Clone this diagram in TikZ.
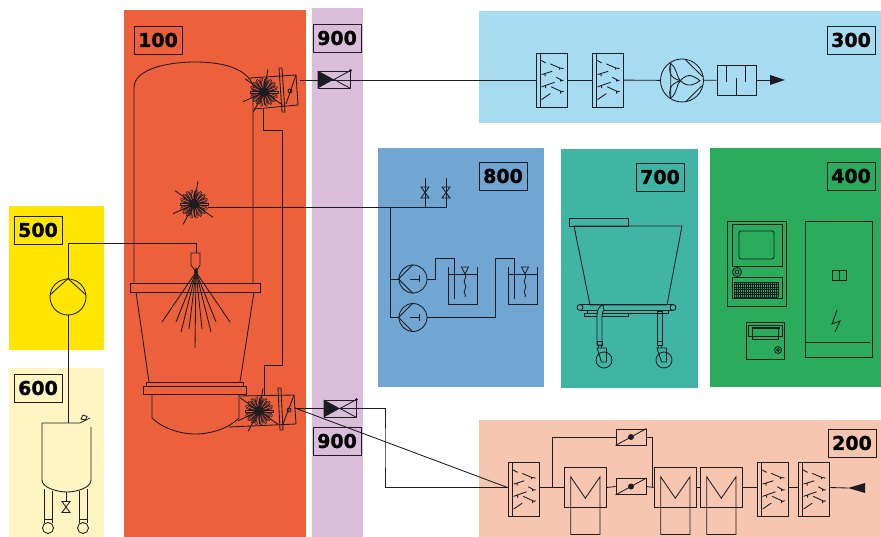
\documentclass[tikz,border=0pt]{standalone}
\usepackage{fontspec}
\setmainfont[BoldFeatures={FakeBold=1.2}]{DejaVu Sans}
\usetikzlibrary{positioning,calc}
\definecolor{ink}{HTML}{1C1C22}
\definecolor{col100}{HTML}{EC603C}
\definecolor{col200}{HTML}{F7C6B0}
\definecolor{col300}{HTML}{A6DBF2}
\definecolor{col400}{HTML}{2BAB5C}
\definecolor{col500}{HTML}{FFE600}
\definecolor{col600}{HTML}{FFF5C3}
\definecolor{col700}{HTML}{40B5A6}
\definecolor{col800}{HTML}{70A6D1}
\definecolor{col900}{HTML}{D9BDD9}

\begin{document}
\begin{tikzpicture}[x=1pt, y=-1pt, line width=0.85pt, color=ink,
    tag/.style={draw, rectangle, minimum width=48pt, minimum height=28pt, inner sep=0pt, text=black, font=\fontsize{19}{19}\selectfont\bfseries},
    filterbox/.style={draw, rectangle, minimum width=31pt, minimum height=54pt, inner sep=0pt},
    hxbox/.style={draw, rectangle, minimum width=42pt, minimum height=40pt, inner sep=0pt},
    flapbox/.style={draw, rectangle, minimum width=30pt, minimum height=16pt, inner sep=0pt},
    valvebox/.style={draw, rectangle, minimum width=32pt, minimum height=17pt, inner sep=0pt},
    pumpbox/.style={draw, circle, minimum size=28pt, inner sep=0pt},
    hub/.style={circle, fill=ink, minimum size=10pt, inner sep=0pt},
    filterfill/.pic={
        \draw (5,0) -- (5,54);
        \draw (5.3,7.7) -- (10,10.3);
        \draw (14.7,11.3) -- (24,15.3) -- (28,16) (24,15.3) -- (24,17);
        \draw (6,22) -- (16.7,18.7) (9.5,20.5) -- (9.5,23.5);
        \draw (20.7,24.7) -- (26.7,28) -- (28,27.5) (25,27) -- (25,29);
        \draw (6,34.3) -- (19,29.7) (10,33) -- (10,35.5);
        \draw (15.7,34.3) -- (26.7,39.3) -- (28,38.5) (25,38.5) -- (25,41);
        \draw (6,47) -- (14.7,41);
    },
    coilfill/.pic={
        \draw (-14.3,47) -- (-14.3,-10.7) -- (0.3,10.7) -- (15,-10.7) -- (15,47) -- cycle;
    },
    burst/.pic={
        \foreach \a in {0,20,...,340} {\draw[rotate=\a, line width=0.5pt] (3,-0.8) rectangle (14,0.8);}
        \foreach \a in {10,30,...,350} {\draw[rotate=\a] (0,0) -- (13,0);}
        \foreach \a in {80,145,205,242,-35} {\draw[rotate=\a] (0,0) -- (23,0);}
    },
    bowtie/.pic={
        \draw (-4,-5.5) -- (4,-5.5) -- (-4,5.5) -- (4,5.5) -- cycle;
    },
    levelmark/.pic={
        \draw (0,0) -- (0,37) -- (29,37) -- (29,0) (0,7) -- (29,7);
        \draw (13.5,0) -- (20.5,0) -- (17,7) -- cycle;
        \draw (17,7) .. controls (20,11) and (14,13) .. (17,17) .. controls (20,21) and (14,24) .. (17,27) .. controls (18,28) and (17,29) .. (17,30);
    },
    caster/.pic={
        \draw (-2.5,-4) rectangle (2.5,0);
        \draw (-1.5,0) -- (-1.5,3) (1.5,0) -- (1.5,3);
        \draw (-2.5,3) -- (7,3) -- (7,17) -- (2,17) -- cycle;
        \draw (4.5,15) circle (8);
    }]
    \useasboundingbox (0,0) rectangle (881,537);

    \fill[col500] (9,206) rectangle (104,350);
    \fill[col600] (9,368) rectangle (104,537);
    \fill[col100] (124,10) rectangle (306,537);
    \fill[col900] (312,8) rectangle (363,537);
    \fill[col300] (479,11) rectangle (881,123);
    \fill[col800] (378,148) rectangle (544,387);
    \fill[col700] (561,149) rectangle (698,388);
    \fill[col400] (710,148) rectangle (881,387);
    \fill[col200] (479,420) rectangle (881,537);

    \node (tag100) [tag] at (158,40) {100};
    \node (tag900a) [tag] at (337,38) {900};
    \node (tag900b) [tag] at (337,441) {900};
    \node (tag300) [tag] at (851,40) {300};
    \node (tag800) [tag] at (503,176) {800};
    \node (tag700) [tag] at (660,177) {700};
    \node (tag400) [tag] at (851,176) {400};
    \node (tag200) [tag] at (852,443) {200};
    \node (tag500) [tag] at (38,230) {500};
    \node (tag600) [tag] at (38,388) {600};

    % column
    \draw (134,283) -- (134,88) .. controls (134,68) and (170,62) .. (195,62) .. controls (222,62) and (246,68) .. (253,85) -- (253,283);
    \draw (130,283) rectangle (260,292);
    \draw (136,292) -- (149,382) (254,292) -- (240,382);
    \draw (146,382) rectangle (243,386);
    \draw (143,386) rectangle (246,394);
    \draw (152,394) -- (152,418) .. controls (162,428) and (180,434) .. (195,434) .. controls (212,434) and (229,428) .. (239,418) -- (239,394);

    % upper housing
    \draw (250,78) -- (296,75) -- (298,105) -- (254,109);
    \draw (279,68) -- (282,68) -- (285,112) -- (282,112) -- cycle;
    \draw (296,75) -- (286,104);
    \draw (290,91) circle (2);
    \pic at (264,92) {burst};
    \node (burstA) [hub] at (264,92) {};

    % lower housing
    \draw (239,396) -- (294,395) -- (296,424) -- (229,427);
    \draw (278,388) -- (281,388) -- (283,430) -- (280,430) -- cycle;
    \draw (294,395) -- (283,424);
    \draw (289,410) circle (2);
    \pic at (259,411) {burst};
    \node (burstC) [hub] at (259,411) {};

    % middle ring and spray
    \pic at (194,204) {burst};
    \node (burstB) [hub] at (194,204) {};
    \draw (191,253) -- (200,253) -- (200,265) -- (196,272) -- (191,265) -- cycle;
    \fill (196,267) -- (198,272) -- (196,276) -- (194,272) -- cycle;
    \foreach \ex/\ey in {162/322,176/322,181/332,189/329,195/348,202/329,211/332,216/322,230/322} {
        \draw (196,272) -- (\ex,\ey);
    }
    \coordinate (ductA) at (263,108);
    \coordinate (ductB) at (282,130);
    \coordinate (ductC) at (264,365);
    \coordinate (ductD) at (264,395);
    \draw (ductA) |- (ductB) |- (ductC) -- (ductD);

    % dampers in 900
    \node (valveA) [valvebox] at (334,79.5) {};
    \node (valveB) [valvebox] at (340,408.5) {};
    \foreach \v in {valveA,valveB} {
        \fill (\v.north west) -- (\v.south west) -- (\v.center) -- cycle;
        \draw (\v.south east) -- (\v.center) -- (\v.north east);
        \fill (\v.north east) circle (1.6);
    }

    % exhaust line
    \foreach \name/\x/\y in {fltA/551.5/80,fltB/607.5/80,fltC/523.5/489.5,fltD/772.5/489.5,fltE/813.5/489.5} {
        \node (\name) [filterbox] at (\x,\y) {};
        \pic at (\name.north west) {filterfill};
    }
    \node (fanA) [draw, circle, minimum size=43pt, inner sep=0pt] at (682,80.5) {};
    \draw (685.7,60) -- (702.7,76.7) (685.7,101.7) -- (702.7,85) (670.7,63.3) -- (670.7,98.3);
    \draw (680.3,80.7) .. controls (688,72) and (694,76) .. (700,80.7) .. controls (694,85) and (688,88) .. (680.3,80.7);
    \draw (680.3,80.7) .. controls (676,76) and (678,70) .. (670.7,63.3) .. controls (668,72) and (670,78) .. (680.3,80.7);
    \draw (680.3,80.7) .. controls (676,85) and (678,92) .. (670.7,98.3) .. controls (668,90) and (670,84) .. (680.3,80.7);
    \node (silA) [draw, rectangle, minimum width=39pt, minimum height=30pt, inner sep=0pt] at (736.5,80) {};
    \draw (726,65) -- (726,82) (736,95) -- (736,78) (745,65) -- (745,82);
    \coordinate (hsgA) at (300,80);
    \coordinate (tipA) at (770,80);
    \draw (hsgA) -- (fltA.west);
    \draw (fltA) -- (fltB);
    \draw (fltB) -- (fanA);
    \draw (fanA) -- (silA);
    \draw (silA) -- (tipA);
    \fill (770,75) -- (785,80) -- (770,85) -- cycle;

    % supply line
    \node (hxA) [hxbox] at (585,487.5) {};
    \node (hxB) [hxbox] at (675,487.5) {};
    \node (hxC) [hxbox] at (721,487.5) {};
    \foreach \h in {hxA,hxB,hxC} {
        \pic at (\h) {coilfill};
    }
    \node (flapA) [flapbox] at (631,437) {};
    \node (flapB) [flapbox] at (631,486.5) {};
    \foreach \f in {flapA,flapB} {
        \draw (\f.south west) -- (\f.north east);
        \fill (\f.center) circle (3);
    }
    \coordinate (hsgB) at (295,408);
    \coordinate (elbC) at (385,448);
    \coordinate (teeC) at (552,488);
    \coordinate (teeD) at (652,487);
    \coordinate (tipC) at (848,488);
    \draw (hsgB) -| (elbC) |- ([yshift=2pt]fltC.west);
    \draw (hsgB) -- ([yshift=2pt]fltC.west);
    \draw ([yshift=2pt]fltC.east) -- (hxA.west);
    \draw (teeC) |- (flapA.west);
    \draw (hxA.east) -- (flapB.west);
    \draw (flapA.east) -| (teeD);
    \draw (flapB.east) -- (hxB.west);
    \draw (hxB.east) -- (hxC.west);
    \draw (hxC.east) -- ([yshift=2pt]fltD.west);
    \draw ([yshift=2pt]fltD.east) -- ([yshift=2pt]fltE.west);
    \draw ([yshift=2pt]fltE.east) -- (tipC);
    \fill (tipC) -- (865,483) -- (865,493) -- cycle;

    % cleaning unit
    \node (pumpA) [pumpbox] at (413,279) {};
    \node (pumpB) [pumpbox] at (413,317.5) {};
    \foreach \p in {pumpA,pumpB} {
        \draw (\p.north) -- (\p.west) -- (\p.south);
        \draw ($(\p)+(-3,0)$) -- ($(\p)+(6,0)$) ($(\p)+(6,-3.5)$) -- ($(\p)+(6,3.5)$);
    }
    \coordinate (nozB) at (208,207);
    \coordinate (teeA) at (390,207);
    \coordinate (teeB) at (425,207);
    \coordinate (endA) at (446,207);
    \coordinate (topA) at (425,178);
    \coordinate (topB) at (446,178);
    \coordinate (elbA) at (435,258);
    \coordinate (elbB) at (495,258);
    \coordinate (dipA) at (454,299);
    \coordinate (dipB) at (514,299);
    \draw (nozB) -- (endA) -- (topB);
    \draw (teeB) -- (topA);
    \pic at (425,192.5) {bowtie};
    \pic at (446,192.5) {bowtie};
    \draw (teeA) |- (pumpB.west);
    \draw (teeA |- pumpA) -- (pumpA.west);
    \draw (pumpA.east) -| (elbA) -| (dipA);
    \draw (pumpB.east) -| (elbB) -| (dipB);
    \pic at (448,267) {levelmark};
    \pic at (508,267) {levelmark};

    % dosing
    \node (pumpE) [draw, circle, minimum size=36pt, inner sep=0pt] at (68,297) {};
    \draw (50,295) -- (pumpE.north) -- (86,295);
    \coordinate (elbE) at (196,243);
    \coordinate (nozA) at (196,253);
    \coordinate (tankF) at (68,423);
    \draw (pumpE.north) |- (elbE) -- (nozA);
    \draw (pumpE.south) -- (tankF);
    \draw (90,418) -- (80,423) -- (42,423) -- (42,480) .. controls (42,488) and (58,492) .. (67,492) .. controls (76,492) and (91,488) .. (91,480) -- (91,427);
    \draw (81,419) -- (83,415) -- (87,416.5) -- (85.5,420) -- cycle;
    \draw (44,489) -- (44,523) (52,491) -- (52,523) (44,519) -- (52,519);
    \draw (79,491) -- (79,523) (87,489) -- (87,523) (79,519) -- (87,519);
    \draw (48,528) circle (5.5) (83,528) circle (5.5);
    \draw (66,492) -- (66,501);
    \pic at (66,507) {bowtie};

    % cart
    \draw (569,218) rectangle (628,226);
    \draw (574,226) -- (682,226) -- (667,305) -- (590,305) -- cycle;
    \draw (580,304.5) -- (673,304.5) (580,310.5) -- (673,310.5);
    \draw[fill=col700] (580,307.5) circle (3) (673,307.5) circle (3);
    \draw (587,310.5) rectangle (668,313);
    \draw (584,313) rectangle (628,316);
    \draw[fill=col700] (597,345) -- (597,316) .. controls (597,310) and (599,306) .. (603,305) -- (604,310) .. controls (603,311) and (602,313) .. (602,316) -- (602,345) -- cycle;
    \draw (657,311) rectangle (662,345);
    \pic at (599.5,345) {caster};
    \pic at (659.5,345) {caster};

    % control
    \draw (727,221) rectangle (786,306);
    \draw (732,224) rectangle (782,266);
    \draw[rounded corners=2pt] (739,231) rectangle (774,259);
    \draw (737,272) circle (4.5) (737,272) circle (2);
    \draw (732,277) rectangle (782,298);
    \foreach \gx in {734,736,...,778} {\draw[line width=0.4pt] (\gx,282) -- (\gx,297);}
    \foreach \gy in {282,284.5,...,297} {\draw[line width=0.4pt] (734,\gy) -- (778,\gy);}
    \draw (746,322) rectangle (784,359);
    \draw (748,325) rectangle (782,336);
    \draw (752,328) rectangle (778,339);
    \draw[line width=1.4pt] (752,328) -- (780,328);
    \draw (778,350) circle (3.5) (778,350) circle (1.5);
    \draw (805,221) rectangle (872,357);
    \draw (805,342) -- (870,342);
    \draw (832,270) rectangle (846,280) (839,270) -- (839,280);
    \draw (837,310) -- (832,324) -- (840,321) -- (835,332);
\end{tikzpicture}
\end{document}
